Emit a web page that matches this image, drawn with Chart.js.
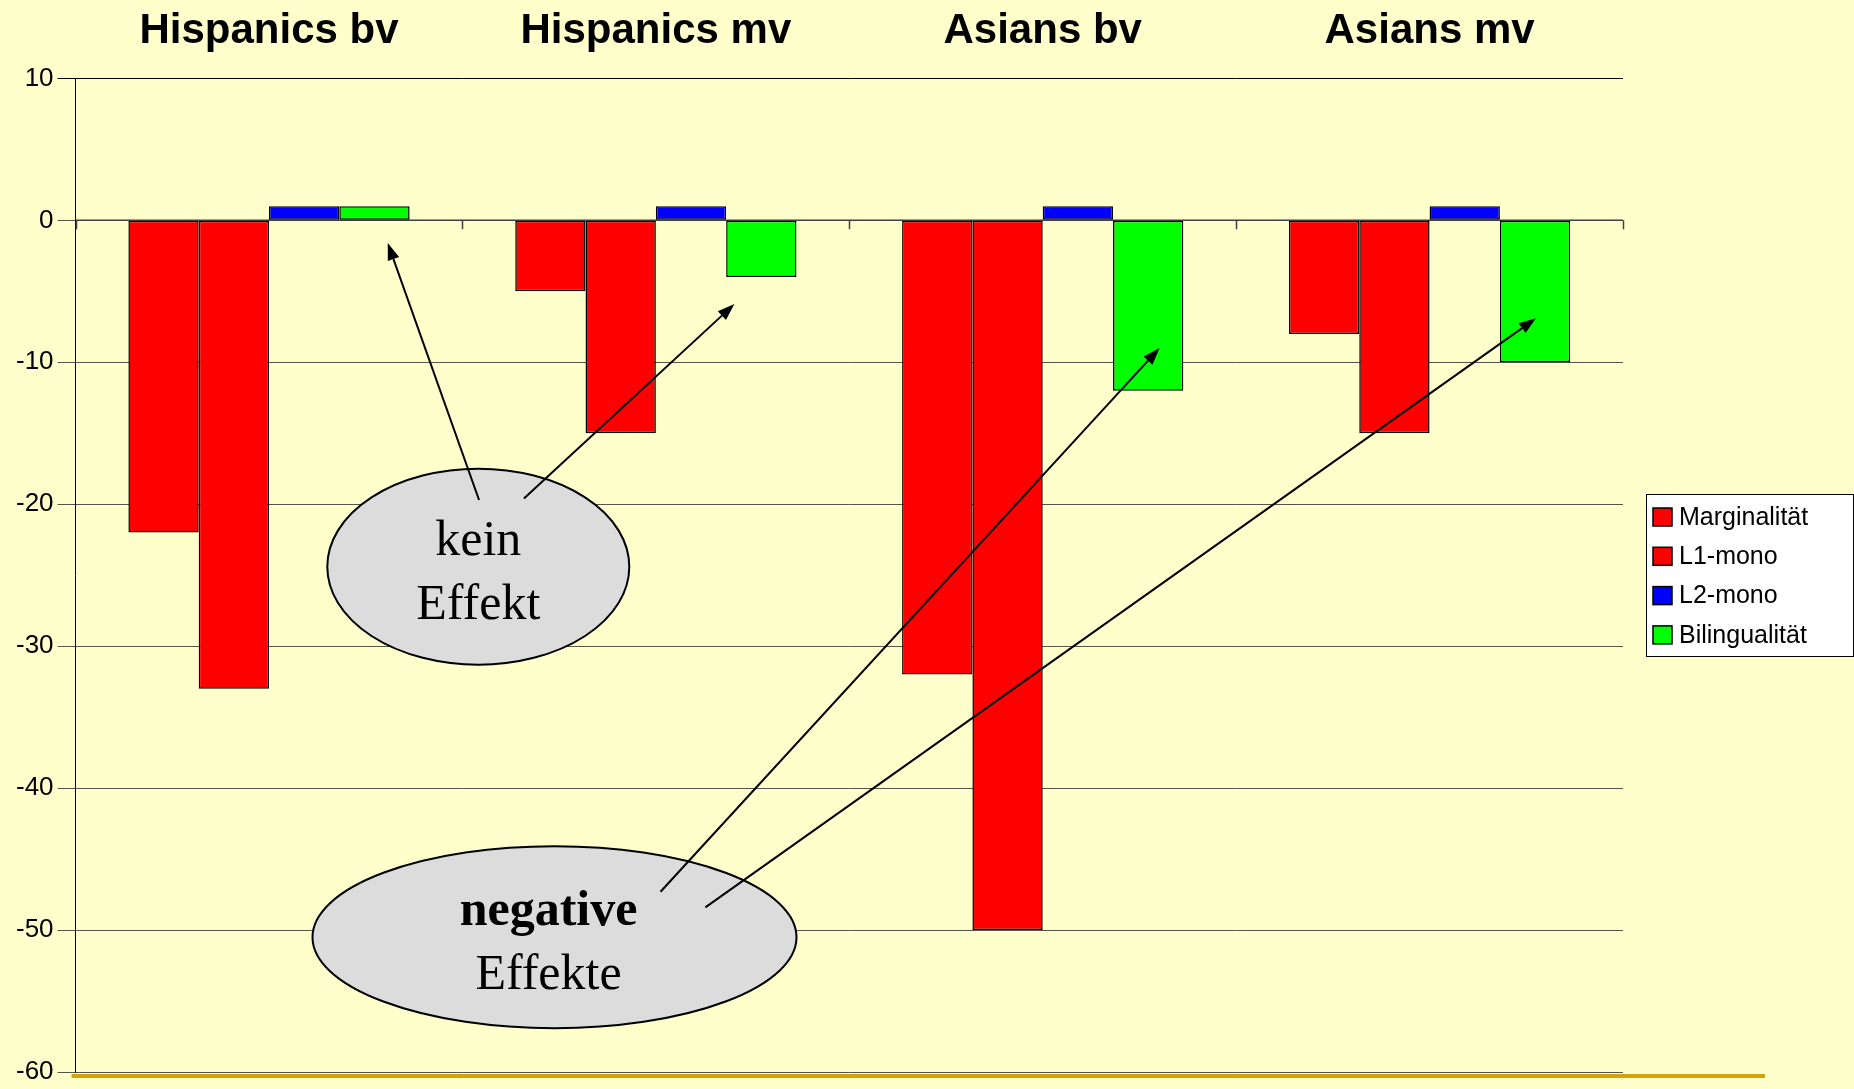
<!DOCTYPE html>
<html>
<head>
<meta charset="utf-8">
<script src="https://cdn.jsdelivr.net/npm/chart.js@4.4.1/dist/chart.umd.min.js"></script>
<style>
  html, body { margin: 0; padding: 0; background: #ffffcc; }
  #wrap { width: 1854px; height: 1089px; position: relative; }
</style>
</head>
<body>
<div id="wrap"><canvas id="chart"></canvas></div>
<script>
// Werte
const groups = ['Hispanics bv', 'Hispanics mv', 'Asians bv', 'Asians mv'];
const seriesNames = ['Marginalität', 'L1-mono', 'L2-mono', 'Bilingualität'];
const marginalitaet = [-22, -5, -32, -8];
const l1Mono = [-33, -15, -50, -15];
const l2Mono = [1, 1, 1, 1];
const bilingualitaet = [1, -4, -12, -10];
const seriesColors = ['#ff0000', '#ff0000', '#0000ff', '#00ff00'];
const yMin = -60, yMax = 10, yStep = 10;

// Callouts (Position in Kategorie-Index / Werteinheiten)
const calloutTexts = [['kein', 'Effekt'], ['negative', 'Effekte']];
const calloutBold = [[false, false], [true, false]];
const calloutCenters = [[0.541, -24.4], [0.738, -50.5]];
const arrowFrom = [[0.543, -19.7], [0.659, -19.6], [1.012, -47.3], [1.128, -48.4]];
const arrowTo = [[0.307, -1.6], [1.203, -5.9], [2.302, -9.0], [3.275, -6.9]];

const SANS = "'Liberation Sans', Arial, sans-serif";
const SERIF = "'Liberation Serif', 'Times New Roman', serif";

const drawArrow = (ctx, x1, y1, x2, y2) => {
    const ang = Math.atan2(y2 - y1, x2 - x1);
    const len = 17, half = 6;
    const bx = x2 - len * Math.cos(ang), by = y2 - len * Math.sin(ang);
    ctx.beginPath();
    ctx.moveTo(x1, y1);
    ctx.lineTo(bx, by);
    ctx.stroke();
    ctx.beginPath();
    ctx.moveTo(x2, y2);
    ctx.lineTo(bx + half * Math.sin(ang), by - half * Math.cos(ang));
    ctx.lineTo(bx - half * Math.sin(ang), by + half * Math.cos(ang));
    ctx.closePath();
    ctx.fill();
};

const slidePlugin = {
    id: 'slide',
    beforeDraw(chart) {
        const { ctx, width, height } = chart;
        ctx.save();
        ctx.fillStyle = '#ffffcc';
        ctx.fillRect(0, 0, width, height);
        ctx.restore();
    },
    beforeDatasetsDraw(chart) {
        // kleine Teilstriche der Kategorieachse an der Nulllinie
        const { ctx, scales: { x, y } } = chart;
        const y0 = y.getPixelForValue(0);
        const step = (x.right - x.left) / groups.length;
        ctx.save();
        ctx.strokeStyle = '#404040';
        ctx.lineWidth = 1.5;
        ctx.beginPath();
        ctx.moveTo(x.left, y0);
        ctx.lineTo(x.right, y0);
        for (let i = 0; i <= groups.length; i++) {
            const px = Math.round(x.left + i * step) + 0.5;
            ctx.moveTo(px, y0);
            ctx.lineTo(px, y0 + 9);
        }
        ctx.stroke();
        ctx.restore();
    },
    afterDraw(chart) {
        const { ctx, chartArea, scales: { x, y } } = chart;
        const px = (p) => [x.getPixelForValue(p[0]), y.getPixelForValue(p[1])];
        ctx.save();

        // Goldlinie unten (Folienvorlage)
        ctx.fillStyle = '#d4a20a';
        ctx.fillRect(chartArea.left - 4, chartArea.bottom + 2, chart.width - 89 - chartArea.left + 4, 4);

        // Ellipsen
        const radii = [[151, 98], [242, 91]];
        calloutCenters.forEach((c, i) => {
            const [cx, cy] = px(c);
            ctx.beginPath();
            ctx.ellipse(cx, cy, radii[i][0], radii[i][1], 0, 0, Math.PI * 2);
            ctx.fillStyle = '#dcdcdc';
            ctx.fill();
            ctx.lineWidth = 2;
            ctx.strokeStyle = '#000';
            ctx.stroke();
            ctx.fillStyle = '#000';
            ctx.textAlign = 'center';
            ctx.textBaseline = 'alphabetic';
            calloutTexts[i].forEach((t, k) => {
                ctx.font = (calloutBold[i][k] ? 'bold ' : '') + '50px ' + SERIF;
                ctx.fillText(t, cx - (i === 1 ? 6 : 0), cy + (k === 0 ? -12 : 52));
            });
        });

        // Pfeile
        ctx.strokeStyle = '#000';
        ctx.fillStyle = '#000';
        ctx.lineWidth = 2;
        arrowFrom.forEach((f, i) => {
            const [x1, y1] = px(f);
            const [x2, y2] = px(arrowTo[i]);
            drawArrow(ctx, x1, y1, x2, y2);
        });

        // Legende
        const lx = chartArea.right + 23, lw = 207, lh = 162;
        const ly = Math.round((chartArea.top + chartArea.bottom) / 2 - lh / 2);
        ctx.fillStyle = '#ffffff';
        ctx.fillRect(lx, ly, lw, lh);
        ctx.lineWidth = 1;
        ctx.strokeStyle = '#000';
        ctx.strokeRect(lx + 0.5, ly + 0.5, lw, lh);
        ctx.font = '25px ' + SANS;
        ctx.textAlign = 'left';
        ctx.textBaseline = 'middle';
        chart.data.datasets.forEach((ds, i) => {
            const ry = ly + 23 + i * 39.3;
            ctx.fillStyle = ds.backgroundColor;
            ctx.fillRect(lx + 7, ry - 9, 19, 18);
            ctx.lineWidth = 1.5;
            ctx.strokeRect(lx + 7, ry - 9, 19, 18);
            ctx.fillStyle = '#000';
            ctx.fillText(ds.label, lx + 33, ry + 1);
        });
        ctx.restore();
    }
};

const datasets = [marginalitaet, l1Mono, l2Mono, bilingualitaet].map((vals, i) => ({
    label: seriesNames[i],
    data: vals,
    backgroundColor: seriesColors[i],
    borderColor: '#000',
    borderWidth: 1.5,
    borderSkipped: false,
    categoryPercentage: 0.727,
    barPercentage: 1.0
}));

new Chart(document.getElementById('chart').getContext('2d'), {
    type: 'bar',
    data: { labels: groups, datasets: datasets },
    options: {
        responsive: true,
        maintainAspectRatio: false,
        animation: false,
        layout: { padding: { left: 12, right: 231, top: 0, bottom: 0 } },
        scales: {
            x: {
                position: 'top',
                grid: { display: true, drawOnChartArea: false, drawTicks: true, tickLength: 16, color: 'rgba(0,0,0,0)' },
                border: { display: false },
                ticks: {
                    color: '#000',
                    padding: 6,
                    maxRotation: 0,
                    font: { family: SANS, size: 42, weight: 'bold', lineHeight: 1.2 }
                }
            },
            y: {
                min: yMin,
                max: yMax,
                grid: {
                    color: (c) => c.tick && c.tick.value === yMax ? '#000' : '#55554a',
                    lineWidth: 1,
                    tickLength: 18
                },
                border: { display: true, color: '#000', width: 1 },
                ticks: {
                    stepSize: yStep,
                    color: '#000',
                    padding: 4,
                    font: { family: SANS, size: 26, lineHeight: 1.0 }
                }
            }
        },
        plugins: {
            legend: { display: false },
            tooltip: { enabled: false }
        }
    },
    plugins: [slidePlugin]
});
</script>
</body>
</html>
